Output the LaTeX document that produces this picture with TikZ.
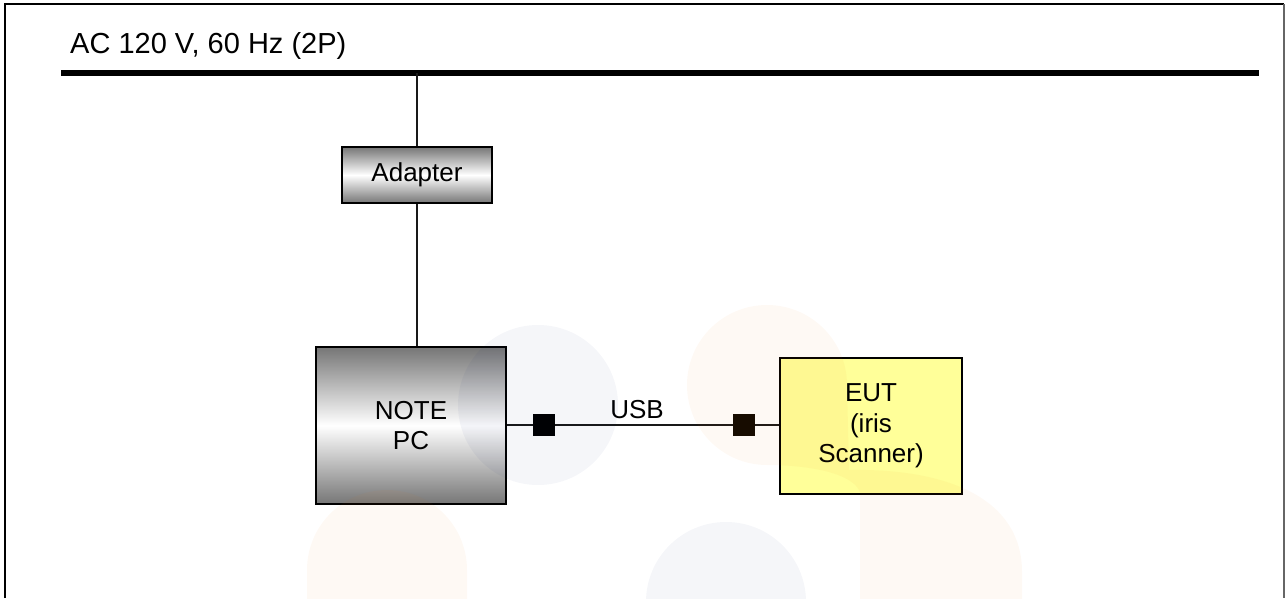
\documentclass[tikz,border=0pt]{standalone}
\usepackage{fontspec}
\setmainfont{Liberation Sans}
\begin{document}
\begin{tikzpicture}[x=1pt,y=-1pt,
  every node/.style={font=\fontsize{26}{30.5}\selectfont, align=center, inner sep=0pt},
  graybox/.style={draw=black, line width=1.6pt, top color=graytone, bottom color=graytone, middle color=white},
  eutbox/.style={draw=black, line width=1.6pt, fill=eutyellow},
  plug/.style={fill=black, minimum size=22pt, draw=none},
  wire/.style={line width=1.5pt, black!90},
  wmblue/.style={fill=wmb, fill opacity=0.045, draw=none},
  wmorange/.style={fill=wmo, fill opacity=0.045, draw=none}]
\definecolor{graytone}{RGB}{118,118,118}
\definecolor{eutyellow}{RGB}{255,255,153}
\definecolor{wmb}{RGB}{15,35,115}
\definecolor{wmo}{RGB}{235,115,0}
\useasboundingbox (0,0) rectangle (1285,598);

% frame
\draw[line width=2.2pt, black] (5,598) -- (5,4) -- (1284,4);
\draw[line width=1.6pt, black!60] (1284,4) -- (1284,598);

% supply
\node[anchor=base west, font=\fontsize{29}{33}\selectfont] (title) at (70,53) {AC 120 V, 60 Hz (2P)};
\coordinate (busL) at (61,73);
\coordinate (busR) at (1259,73);
\coordinate (tap) at (417,73);
\draw[line width=6pt] (busL) -- (busR);

% units
\node[graybox, minimum width=150pt, minimum height=56pt] (adapter) at (417,175) {Adapter};
\node[graybox, minimum width=190pt, minimum height=157pt] (pc) at (411,425.5) {NOTE\\PC};
\node[eutbox, minimum width=182pt, minimum height=136pt] (eut) at (871,426) {EUT\\(iris\\Scanner)};

% power cabling
\draw[wire] (tap) -- (adapter.north);
\draw[wire] (adapter.south) -- (adapter.south |- pc.north);

% usb cable
\draw[wire] (pc.east |- 0,425) -- (eut.west |- 0,425);
\node[plug] (plugA) at (544,425) {};
\node[plug, fill={rgb,255:red,14;green,8;blue,0}] (plugB) at (744,425) {};
\node (usb) at (637,410) {USB};

% faint background marks
\fill[wmblue] (538,405) circle (80);
\fill[wmblue] (726,602) circle (80);
\fill[wmorange] (307,600) -- (307,570) arc[start angle=180, end angle=360, radius=80] -- (467,600) -- cycle;
\fill[wmorange] (687,385) arc[start angle=180, end angle=360, radius=80]
  -- (849,470) .. controls (950,468) and (1022,500) .. (1022,572) -- (1022,600) -- (860,600)
  -- (860,492) .. controls (852,472) and (805,465) .. (767,465)
  arc[start angle=90, end angle=180, radius=80] -- cycle;
\end{tikzpicture}
\end{document}
